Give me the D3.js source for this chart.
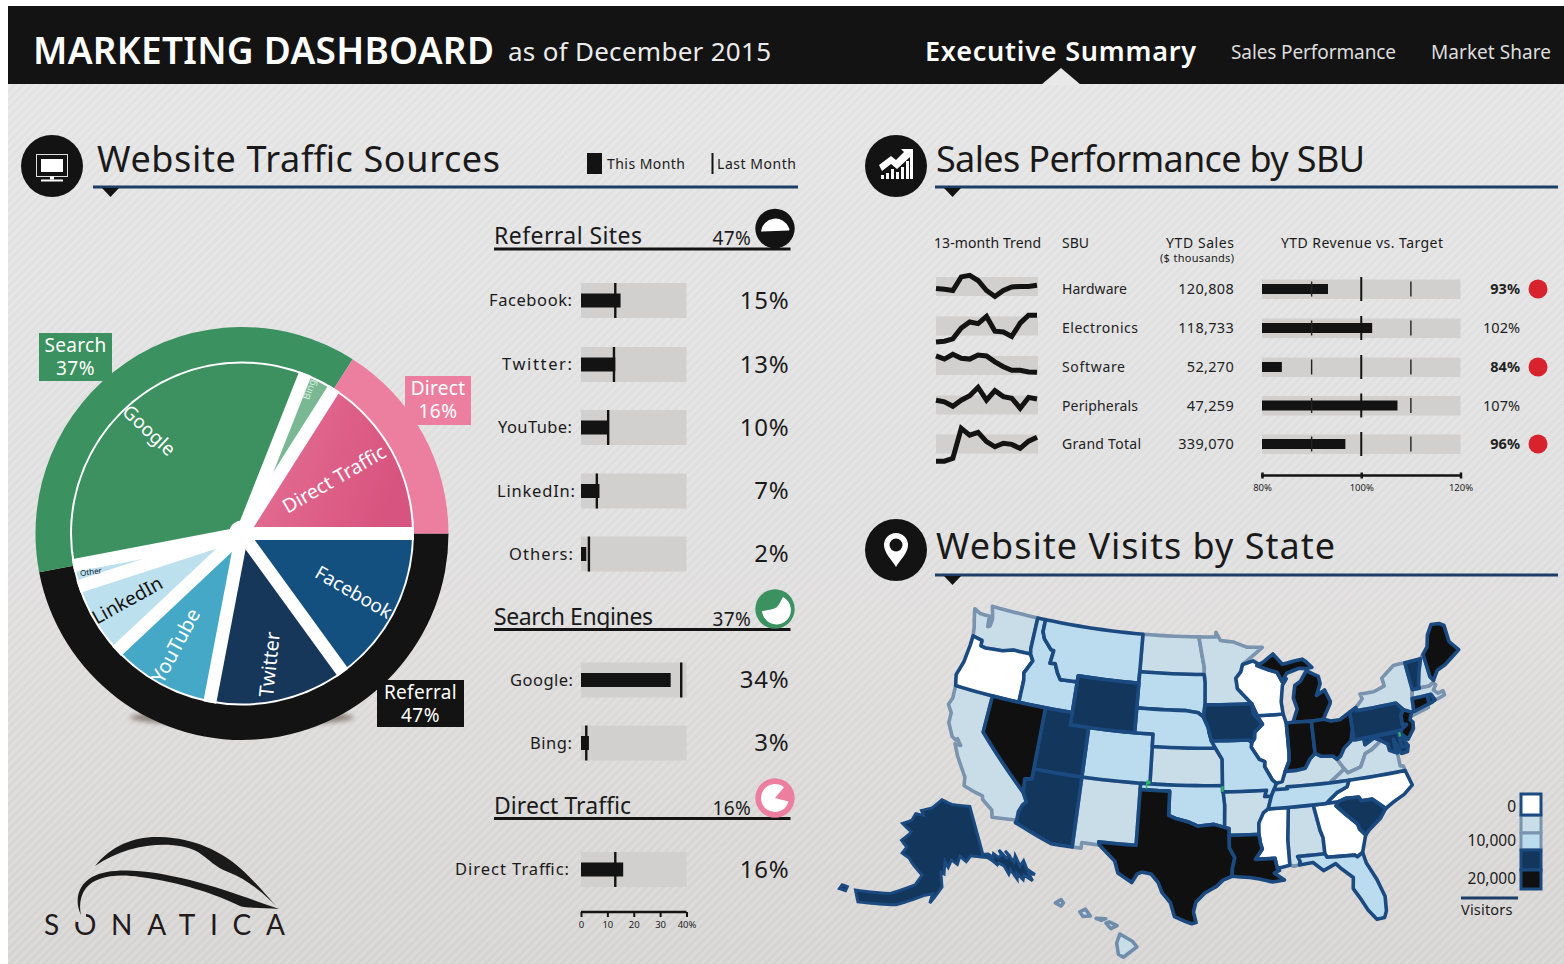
<!DOCTYPE html>
<html><head><meta charset="utf-8">
<script src="https://cdn.jsdelivr.net/npm/d3@7"></script>
<style>
html,body{margin:0;padding:0;background:#fff;overflow:hidden}
svg{display:block}
text{font-family:"Noto Sans",sans-serif;fill:#1b1b1b}
</style></head><body><svg id="c" width="1564" height="964"></svg>
<script>
// ---------- DATA ----------
const headerTabs = ["Executive Summary","Sales Performance","Market Share"];
const pieCategories = ["Facebook","Twitter","YouTube","LinkedIn","Other","Google","Bing","Direct Traffic"];
const pieValues = [15,13,10,7,2,34,3,16];
const ringCategories = ["Referral","Search","Direct"];
const ringValues = [47,37,16];
const referralSites = ["Facebook","Twitter","YouTube","LinkedIn","Others"];
const referralThis = [15,13,10,7,2];
const referralLast = [13,12.5,10.3,6,3];
const searchEngines = ["Google","Bing"];
const searchThis = [34,3];
const searchLast = [38,2];
const directSites = ["Direct Traffic"];
const directThis = [16];
const directLast = [13];
const pctTicks = [0,10,20,30,40];
const sbuNames = ["Hardware","Electronics","Software","Peripherals","Grand Total"];
const sbuSales = ["120,808","118,733","52,270","47,259","339,070"];
const sbuActual = [93.3,102.2,84,107.3,96.8];
const sbuLabels = ["93%","102%","84%","107%","96%"];
const revTicks = [80,100,120];
const trendHardware = [45,43,40,74,78,65,40,25,40,49,50,50,53];
const trendElectronics = [10,12,18,45,60,56,74,37,35,24,57,77,77];
const trendSoftware = [74,66,78,68,66,76,74,59,47,38,38,34,33];
const trendPeripherals = [62,58,47,62,73,94,62,86,71,67,42,69,65];
const trendTotal = [7,7,14,89,72,79,56,43,52,49,39,57,67];
const legendLabels = ["0","10,000","20,000"];
// visitor class per state: 0 white, 1 pale, 2 light blue, 3 navy, 4 black
const visitClass = {WA:1,OR:0,CA:1,NV:4,ID:2,MT:2,WY:3,UT:3,CO:2,AZ:3,NM:1,ND:1,SD:2,NE:2,KS:1,OK:2,TX:4,MN:1,IA:3,MO:2,AR:1,LA:4,WI:0,IL:0,MS:0,AL:1,TN:2,KY:1,IN:4,OH:4,MI:4,GA:0,FL:2,SC:3,NC:0,VA:1,WV:1,PA:3,NY:1,MD:3,DE:3,NJ:4,CT:4,RI:3,MA:1,VT:3,NH:1,ME:4};
const stateOutline = {
WA:["-124.7,48.4 -123.9,48.15 -123.2,48.15 -122.75,48.15 -122.6,47.3 -122.35,47.4 -122.3,48 -122.5,48.5 -122.75,49 -117.03,49 -117.04,46.42 -116.92,46 -118.98,46 -119.3,45.93 -120.2,45.73 -121.2,45.67 -122.2,45.58 -122.75,45.65 -122.8,46.1 -123.2,46.15 -123.95,46.25 -124.1,46.9 -124.4,47.6"],
OR:["-123.95,46.25 -123.2,46.15 -122.8,46.1 -122.75,45.65 -122.2,45.58 -121.2,45.67 -120.2,45.73 -119.3,45.93 -118.98,46 -116.92,46 -116.5,45.5 -116.85,44.95 -117.2,44.4 -117.03,43.8 -117.03,42 -124.2,42 -124.5,42.85 -124.1,44 -123.95,45.5"],
CA:["-124.2,42 -120,42 -120,39 -114.63,35 -114.14,34.3 -114.45,34 -114.72,33.4 -114.72,32.72 -117.12,32.53 -117.3,33.1 -118.4,33.75 -118.5,34.03 -119.2,34.15 -120.5,34.45 -120.65,35.15 -121.9,36.6 -122.5,37.5 -121.9,37.5 -122.4,37.95 -122.5,37.8 -123,38 -123.75,39 -123.8,39.8 -124.35,40.4 -124.1,41"],
NV:["-120,42 -114.04,42 -114.04,36.2 -114.75,36.1 -114.63,35 -120,39"],
ID:["-117.03,49 -116.05,49 -116.05,48 -115.7,47.45 -114.7,46.7 -114.35,46.65 -114.5,45.6 -113.9,45.65 -113.45,44.95 -113,44.45 -111.05,44.5 -111.05,42 -117.03,42 -117.03,43.8 -117.2,44.4 -116.85,44.95 -116.5,45.5 -116.92,46 -117.04,46.42"],
MT:["-116.05,49 -104.05,49 -104.05,45 -111.05,45 -111.05,44.5 -113,44.45 -113.45,44.95 -113.9,45.65 -114.5,45.6 -114.35,46.65 -114.7,46.7 -115.7,47.45 -116.05,48"],
WY:["-111.05,45 -104.05,45 -104.05,41 -111.05,41"],
UT:["-114.04,42 -111.05,42 -111.05,41 -109.05,41 -109.05,37 -114.04,37"],
CO:["-109.05,41 -102.05,41 -102.05,37 -109.05,37"],
AZ:["-114.72,32.72 -114.72,33.4 -114.45,34 -114.14,34.3 -114.63,35 -114.75,36.1 -114.04,36.2 -114.04,37 -109.05,37 -109.05,31.33 -111.07,31.33 -114.8,32.5"],
NM:["-109.05,37 -103,37 -103,32 -106.6,32 -106.5,31.75 -108.2,31.78 -108.2,31.33 -109.05,31.33"],
ND:["-104.05,49 -97.23,49 -96.85,47.6 -96.55,46.5 -96.56,45.94 -104.05,45.94"],
SD:["-104.05,45.94 -96.56,45.94 -96.45,45.3 -96.45,43.5 -96.6,42.5 -97.2,42.85 -98.5,43 -104.05,43"],
NE:["-104.05,43 -98.5,43 -97.2,42.85 -96.6,42.5 -96.1,41.7 -95.9,41 -95.31,40 -102.05,40 -102.05,41 -104.05,41"],
KS:["-102.05,40 -95.31,40 -94.62,39.1 -94.62,37 -102.05,37"],
OK:["-103,37 -94.62,37 -94.43,35.4 -94.48,33.65 -95.5,33.9 -97.1,33.75 -98.1,34.1 -99.2,34.3 -100,34.56 -100,36.5 -103,36.5"],
TX:["-103,36.5 -100,36.5 -100,34.56 -99.2,34.3 -98.1,34.1 -97.1,33.75 -95.5,33.9 -94.48,33.65 -94.04,33.55 -94.04,32 -93.55,31.2 -93.8,30.3 -93.85,29.7 -94.7,29.4 -95.3,28.9 -96.4,28.35 -97.2,27.6 -97.4,26.8 -97.15,25.95 -97.55,25.85 -98.2,26.05 -99.1,26.4 -99.5,27.5 -100.3,28.3 -100.7,29.1 -101.4,29.77 -102.3,29.88 -102.7,29.7 -103.15,28.98 -104.5,29.65 -104.9,30.6 -106.5,31.75 -106.6,32 -103,32"],
MN:["-97.23,49 -95.15,49 -95.15,49.38 -94.6,48.7 -93,48.55 -91.5,48.1 -89.6,48 -92.05,46.7 -92.3,46.1 -92.9,45.6 -92.75,44.75 -91.2,43.5 -96.45,43.5 -96.45,45.3 -96.56,45.94 -96.55,46.5 -96.85,47.6"],
IA:["-96.45,43.5 -91.2,43.5 -91.1,42.7 -90.15,41.8 -91.05,41.2 -91.1,40.7 -91.42,40.38 -91.73,40.6 -95.75,40.6 -95.9,41 -96.1,41.7 -96.6,42.5"],
MO:["-95.75,40.6 -91.73,40.6 -91.42,40.38 -91.5,40 -90.7,39 -90.15,38.8 -90.2,38.4 -89.5,37.3 -89.1,37 -89.4,36.5 -89.7,36 -90.37,36 -90.15,36.5 -94.62,36.5 -94.62,39.1 -95.31,40"],
AR:["-94.62,36.5 -90.15,36.5 -90.37,36 -89.7,36 -90.1,35 -90.6,34.7 -91.1,33.9 -91.15,33 -94.04,33 -94.04,33.55 -94.48,33.65 -94.43,35.4"],
LA:["-94.04,33 -91.15,33 -91.05,32.3 -90.9,31.8 -91.6,31 -89.75,31 -89.6,30.2 -89.4,30 -89.9,29.8 -89,29.2 -90.1,29.1 -91.3,29.4 -92.2,29.55 -93.85,29.7 -93.8,30.3 -93.55,31.2 -94.04,32"],
MS:["-90.1,35 -88.2,35 -88.1,34.9 -88.4,32.4 -88.4,30.35 -89.4,30.2 -89.6,30.2 -89.75,31 -91.6,31 -90.9,31.8 -91.05,32.3 -91.15,33 -91.1,33.9 -90.6,34.7"],
AL:["-88.2,35 -85.6,35 -85.2,32.9 -85,32.3 -85,31 -87.6,31 -87.4,30.6 -87.5,30.3 -88,30.25 -88.4,30.35 -88.4,32.4 -88.1,34.9"],
TN:["-90.1,35 -89.7,36 -89.4,36.5 -88,36.5 -88.05,36.65 -83.7,36.6 -81.7,36.6 -82,36.1 -83.1,35.75 -84.3,35"],
KY:["-89.4,36.5 -89.1,37 -88.5,37.1 -88.1,37.9 -87,37.9 -86,38 -85.4,38.7 -84.8,39.1 -84.2,38.8 -83,38.7 -82.6,38.4 -82,37.55 -83.7,36.6 -88.05,36.65 -88,36.5"],
IL:["-90.65,42.5 -87.8,42.5 -87.55,41.75 -87.53,39.3 -87.6,38.7 -88.1,37.9 -88.5,37.1 -89.1,37 -89.5,37.3 -90.2,38.4 -90.15,38.8 -90.7,39 -91.5,40 -91.42,40.38 -91.1,40.7 -91.05,41.2 -90.15,41.8"],
WI:["-92.05,46.7 -90.8,46.95 -89.1,46.15 -88.1,45.9 -87.6,45.1 -87.1,45.3 -87.6,44.8 -87.9,43.5 -87.8,42.5 -90.65,42.5 -91.2,43.5 -92.75,44.75 -92.9,45.6 -92.3,46.1"],
MI:["-86.8,41.76 -84.8,41.7 -83.45,41.73 -83.1,42.2 -82.5,42.9 -82.45,43.1 -82.9,44.05 -83.9,43.7 -83.3,44.6 -83.4,45.2 -84.7,45.78 -85.5,45 -86.2,44.7 -86.5,43.7 -86.2,42.8",
    "-90.4,46.55 -89.1,46.15 -88.1,45.9 -87.6,45.1 -87,45.75 -85.5,46.05 -84.7,45.95 -84,46 -84.6,46.5 -85,46.75 -86.2,46.65 -87.4,46.5 -88.4,47.4 -89.5,46.85"],
IN:["-87.53,41.75 -86.8,41.76 -84.8,41.7 -84.8,39.1 -85.4,38.7 -86,38 -87,37.9 -88.1,37.9 -87.6,38.7 -87.53,39.3"],
OH:["-84.8,41.7 -83.45,41.73 -82.7,41.5 -81.7,41.5 -80.52,41.98 -80.52,40.64 -80.85,39.7 -81.7,39.2 -82.2,38.6 -82.6,38.4 -83,38.7 -84.2,38.8 -84.8,39.1"],
PA:["-80.52,41.98 -79.76,42.27 -79.76,42 -75.35,42 -74.7,41.35 -75.1,40.95 -75.15,40.2 -74.7,40.15 -75.4,39.8 -80.52,39.72 -80.52,40.64"],
WV:["-80.52,40.64 -80.52,39.72 -79.48,39.72 -79.48,39.2 -78.4,39.62 -77.75,39.3 -78.3,39 -78.9,38.7 -79.6,38.5 -80.3,37.5 -81.7,37.2 -82,37.55 -82.6,38.4 -82.2,38.6 -81.7,39.2 -80.85,39.7"],
MD:["-79.48,39.72 -75.79,39.72 -75.7,38.46 -75.05,38.45 -75.25,38 -75.9,37.95 -76.3,38.9 -76.4,39.2 -76.45,38.4 -76.3,38.05 -77.05,38.4 -77.1,38.9 -77.75,39.3 -78.4,39.62 -79.48,39.2"],
DE:["-75.79,39.72 -75.4,39.8 -75.55,39.4 -75.05,38.45 -75.7,38.46"],
NJ:["-75.1,40.95 -74.7,41.35 -73.9,41 -74.25,40.45 -74,40.2 -74.1,39.7 -74.9,38.95 -75.5,39.5 -75.4,39.8 -74.7,40.15 -75.15,40.2"],
VA:["-83.7,36.6 -75.9,36.55 -76,36.95 -76.3,37 -76.3,38.05 -77.05,38.4 -77.1,38.9 -77.75,39.3 -78.3,39 -78.9,38.7 -79.6,38.5 -80.3,37.5 -81.7,37.2 -82,37.55"],
NC:["-84.3,35 -83.1,35.75 -82,36.1 -81.7,36.6 -75.9,36.55 -75.5,35.3 -76.5,34.7 -77.6,34.3 -78.55,33.87 -79.7,34.8 -80.8,34.82 -81,35.15 -82.3,35.2 -83.1,35"],
SC:["-83.1,35 -82.3,35.2 -81,35.15 -80.8,34.82 -79.7,34.8 -78.55,33.87 -79.2,33.2 -80.5,32.4 -80.9,32.05 -81.4,32.6 -81.5,33 -82.6,34 -83.35,34.7"],
GA:["-85.6,35 -84.3,35 -83.1,35 -83.35,34.7 -82.6,34 -81.5,33 -81.4,32.6 -80.9,32.05 -81.45,30.7 -82,30.4 -82.2,30.57 -84.85,30.7 -85,31 -85,32.3 -85.2,32.9"],
FL:["-87.6,31 -85,31 -84.85,30.7 -82.2,30.57 -82,30.4 -81.45,30.7 -81.25,29.8 -80.55,28.4 -80.05,26.9 -80.15,25.7 -80.4,25.2 -81.1,25.15 -81.75,26 -82.2,26.9 -82.8,27.9 -82.65,28.8 -83.6,29.6 -84.1,30.1 -85.3,29.65 -86.2,30.4 -87.5,30.3 -87.4,30.6"],
NY:["-79.76,42.27 -79.76,42 -75.35,42 -74.7,41.35 -73.9,41 -74,40.7 -72,41.05 -73.2,41.1 -73.65,41 -73.5,42.05 -73.25,42.75 -73.35,45 -74.7,45 -76.3,44.2 -76.2,43.55 -77.5,43.25 -79.05,43.27 -78.9,42.85"],
VT:["-73.35,45 -71.5,45 -72.05,44 -72.45,43 -72.45,42.73 -73.25,42.75"],
NH:["-71.5,45 -71.08,45.3 -70.98,43.4 -70.7,43.05 -70.85,42.87 -71.3,42.7 -72.45,42.73 -72.45,43 -72.05,44"],
ME:["-71.08,45.3 -70.4,45.8 -70,46.7 -69.25,47.45 -68.3,47.35 -67.8,47.07 -67.8,45.7 -67,44.85 -68.3,44.3 -69,44 -70,43.75 -70.7,43.05 -70.98,43.4"],
MA:["-73.5,42.05 -73.25,42.75 -71.3,42.7 -70.85,42.87 -70.6,42.65 -71,42.3 -70.6,41.95 -70,42.05 -69.95,41.7 -70.65,41.55 -71.1,41.5 -71.38,42.02 -71.8,42.02"],
CT:["-73.5,42.05 -71.8,42.02 -71.85,41.32 -73.65,41"],
RI:["-71.8,42.02 -71.38,42.02 -71.1,41.5 -71.5,41.37 -71.85,41.32"]
};
const alaskaOutline = [
"-141,69.65 -141,60.3 -139.5,60.2 -138.5,59.4 -138,60.1 -137,59.2 -136,59.6 -136.2,60.6 -135,58.8 -134,59.2 -134.6,60.2 -133.5,57.8 -132.5,58.9 -132.5,56.8 -131,57.6 -131.2,56 -130,54.6 -131.3,55.1 -131.2,53.6 -132.5,55 -133.2,54.2 -134,55.6 -134.5,54.6 -135.2,56.6 -136,55.8 -136.4,57.5 -137.5,58.2 -138,57.9 -139,58.9 -140,59.6 -142.5,60 -144.5,60.3 -146,59.3 -147.5,60.4 -148.5,58.9 -150,59.8 -151,58.4 -151.8,59.5 -152.2,57.2 -153,57.5 -152.8,54.7 -155.6,51.6 -155,53.4 -156.8,53.1 -163,50.9 -171.3,50.4 -172.8,52.5 -164.9,52.9 -159.3,55 -157.8,56.9 -160.8,59.1 -161.8,60 -164,60.8 -163,62 -165,63.2 -163,64.5 -162.5,65 -166,66.4 -163,67.2 -162,68.5 -159,68.3 -160,69.2 -156,69.8 -151.9,71.4 -148,70.4",
"-176.4,52.1 -174.9,52 -174.9,52.8 -176.2,52.9"
];
const hawaiiOutline = [
"-159.8,22.05 -159.45,22.25 -159.3,22.05 -159.45,21.87",
"-158.3,21.55 -157.95,21.7 -157.65,21.3 -158.1,21.28",
"-157.3,21.17 -156.7,21.15 -157,21.05",
"-156.7,20.9 -156.5,20.97 -156.02,20.75 -156.4,20.58",
"-156.05,19.75 -155.85,20.27 -155.1,19.85 -154.82,19.52 -155.65,18.93 -155.95,19.1"
];
const miscMarks = ["-102.45,37.25 -102.0,37.25 -102.0,36.95 -102.3,36.95 -102.3,36.6 -102.45,36.6","-94.75,36.95 -94.5,36.95 -94.5,36.5 -94.75,36.5","-75.8,39.65 -75.55,39.65 -75.55,39.3 -75.8,39.3"];

// ---------- SCAFFOLD ----------
const svg = d3.select("#c");
const ink = "#1a1a1a", navy="#1b4a80", lineNavy="#1c3d66", bandGrey="#d1d0cf";
const defs = svg.append("defs");
const bg = defs.append("linearGradient").attr("id","bg").attr("x1",0).attr("y1",0).attr("x2",0).attr("y2",1);
bg.append("stop").attr("offset","0").attr("stop-color","#e4e4e4");
bg.append("stop").attr("offset","0.55").attr("stop-color","#dfdede");
bg.append("stop").attr("offset","1").attr("stop-color","#d5d3d1");
const stripes = defs.append("pattern").attr("id","st").attr("width",6).attr("height",6).attr("patternUnits","userSpaceOnUse").attr("patternTransform","rotate(-45)");
stripes.append("rect").attr("width",6).attr("height",3).attr("fill","#fff").attr("opacity",0.17);
const pk = defs.append("linearGradient").attr("id","pk").attr("x1",0).attr("y1",0).attr("x2",1).attr("y2",0.3);
pk.append("stop").attr("offset","0").attr("stop-color","#e67396");
pk.append("stop").attr("offset","1").attr("stop-color","#d85480");
const blur = defs.append("filter").attr("id","soft").attr("x","-20%").attr("y","-50%").attr("width","140%").attr("height","200%");
blur.append("feGaussianBlur").attr("stdDeviation",2.5);

svg.append("rect").attr("x",8).attr("y",6).attr("width",1556).attr("height",958).attr("fill","url(#bg)");
svg.append("rect").attr("x",8).attr("y",6).attr("width",1556).attr("height",958).attr("fill","url(#st)");

function T(g,x,y,s,size,o={}){
  const t=g.append("text").attr("x",x).attr("y",y).attr("font-size",size).text(s)
    .attr("text-anchor",o.a||"start").style("fill",o.c||ink);
  if(o.w) t.attr("font-weight",o.w);
  if(o.len) t.attr("textLength",o.len).attr("lengthAdjust","spacing");
  if(o.ls) t.style("letter-spacing",o.ls+"px");
  if(o.f) t.style("font-family",o.f);
  return t;
}
// ---------- HEADER ----------
const hdr = svg.append("g");
hdr.append("rect").attr("x",8).attr("y",6).attr("width",1556).attr("height",78).attr("fill","#131313");
hdr.append("path").attr("d","M1041,85L1061,68L1081,85Z").attr("fill","#e8e8e8");
T(hdr,33,64,"MARKETING DASHBOARD",37,{c:"#fff",w:600,len:461});
T(hdr,508,61,"as of December 2015",26,{c:"#ececec",len:263});
T(hdr,925,61,headerTabs[0],27,{c:"#fff",w:600,len:271});
T(hdr,1231,59,headerTabs[1],19,{c:"#dedede",len:165});
T(hdr,1431,59,headerTabs[2],19,{c:"#dedede",len:120});

function section(x,y,x1,x2,title,len,tx,ty,ly){
  const g=svg.append("g");
  g.append("circle").attr("cx",x).attr("cy",y).attr("r",31).attr("fill","#131313");
  g.append("line").attr("x1",x1).attr("x2",x2).attr("y1",ly).attr("y2",ly).attr("stroke",lineNavy).attr("stroke-width",3);
  g.append("path").attr("d",`M${x1+9},${ly+1}h17l-8.5,9Z`).attr("fill","#131313");
  T(g,tx,ty,title,36,{len:len});
  return g;
}
const s1=section(52,166,93,798,"Website Traffic Sources",403,97,172,187);
const mon=s1.append("g").attr("transform","translate(52,166)");
mon.append("rect").attr("x",-15.5).attr("y",-11.5).attr("width",31).attr("height",22).attr("fill","none").attr("stroke","#ddd").attr("stroke-width",1);
mon.append("rect").attr("x",-11).attr("y",-7).attr("width",22).attr("height",13).attr("fill","#fff");
mon.append("rect").attr("x",-2).attr("y",10.5).attr("width",4).attr("height",3).attr("fill","#fff");
mon.append("rect").attr("x",-11).attr("y",13.5).attr("width",22).attr("height",2).attr("fill","#fff");
const s2=section(896,166,935,1558,"Sales Performance by SBU",429,936,172,187);
const ic=s2.append("g").attr("transform","translate(896,166)").attr("fill","#fff");
ic.append("path").attr("d","M-17,-1L-5,-10L0,-6L8,-14L5,-17L17,-17L17,-5L14,-9L1,3L-5,-2L-14,5Z");
[-15,-10,-5,0,5,10,14].forEach((dx,i)=>{const h=[4,6,10,7,12,18,22][i];ic.append("rect").attr("x",dx).attr("y",13-h).attr("width",3).attr("height",h);});
const s3=section(896,550,935,1558,"Website Visits by State",399,936,559,575);
const pin=s3.append("g").attr("transform","translate(896,550)");
pin.append("path").attr("d","M0,17C-4,10 -12,3 -12,-5A12,12 0 1 1 12,-5C12,3 4,10 0,17Z").attr("fill","#fff");
pin.append("circle").attr("cy",-5).attr("r",6.5).attr("fill","#131313");

// top legend
const tl=svg.append("g");
tl.append("rect").attr("x",587).attr("y",153).attr("width",15).attr("height",21).attr("fill","#131313");
T(tl,607,169,"This Month",14,{len:78});
tl.append("rect").attr("x",711.5).attr("y",153).attr("width",2).attr("height",21).attr("fill","#131313");
T(tl,717,169,"Last Month",14,{len:79});

// ---------- PIE ----------
const cx=242, cy=533.5, gP=svg.append("g").attr("transform",`translate(${cx},${cy})`);
gP.append("ellipse").attr("cx",0).attr("cy",184).attr("rx",112).attr("ry",8).attr("fill","#8d8178").attr("filter","url(#soft)");
const pieStart=Math.PI/2;
const ringPie=d3.pie().sort(null).startAngle(pieStart).endAngle(pieStart+2*Math.PI);
const ringColor=d3.scaleOrdinal().domain(ringCategories).range(["#131313","#3b9160","#ec7f9f"]);
const ringArc=d3.arc().innerRadius(165).outerRadius(206.5);
gP.selectAll("path.r").data(ringPie(ringValues)).join("path").attr("class","r").attr("d",ringArc).attr("fill",(d,i)=>ringColor(ringCategories[i]));
gP.append("circle").attr("r",172).attr("fill","#fff");
const pieColor=d3.scaleOrdinal().domain(pieCategories).range(["#14507f","#17375a","#44a8c6","#bde0ee","#bde0ee","#3d9160","#7ab894","url(#pk)"]);
const pieArc=d3.arc().innerRadius(0).outerRadius(170);
const pieD=d3.pie().sort(null).startAngle(pieStart).endAngle(pieStart+2*Math.PI)(pieValues);
gP.selectAll("path.w").data(pieD).join("path").attr("class","w").attr("d",pieArc).attr("fill",(d,i)=>pieColor(pieCategories[i]));
// white parallel gaps between the slices
gP.selectAll("line.gap").data(pieD).join("line").attr("class","gap")
  .attr("x1",0).attr("y1",0)
  .attr("x2",d=>d3.pointRadial(d.startAngle,172)[0]).attr("y2",d=>d3.pointRadial(d.startAngle,172)[1])
  .attr("stroke","#fff").attr("stroke-width",13);
gP.append("circle").attr("r",13).attr("fill","#fff");
// label placement: [dx, dy, rotation, size, colour]
const labelStyle={Facebook:[111,60,30,19,"#fff"],Twitter:[29,131,-84,20,"#fff"],YouTube:[-65,113,-62,20,"#fff"],LinkedIn:[-114,68,-29,19,"#111"],Other:[-151,39,-8,8,"#123"],Google:[-94,-102,43,19,"#fff"],Bing:[68,-144,-70,10,"#d8ecdf"],"Direct Traffic":[93,-53,-30,19.5,"#fff"]};
pieCategories.forEach(name=>{
  const [x,y,deg,fs,col]=labelStyle[name];
  gP.append("text").attr("text-anchor","middle").attr("dominant-baseline","middle").attr("transform",`translate(${x},${y}) rotate(${deg})`).attr("font-size",fs).style("fill",col).text(name);
});
function tag(x,y,w,h,c,a,b){
  const g=svg.append("g");
  g.append("rect").attr("x",x).attr("y",y).attr("width",w).attr("height",h).attr("fill",c);
  T(g,x+w/2,y+18.5,a,19,{a:"middle",c:"#fff",ls:0.3});
  T(g,x+w/2,y+42,b,19,{a:"middle",c:"#fff",ls:0.5});
}
tag(39,333,73,48,"#3b9160",ringCategories[1],ringValues[1]+"%");
tag(405,376,66,49,"#ec7f9f",ringCategories[2],ringValues[2]+"%");
tag(377,680,87,47,"#131313",ringCategories[0],ringValues[0]+"%");

// ---------- LEFT BULLETS ----------
const pctX=d3.scaleLinear().domain([0,40]).range([581,686.5]);
const gB=svg.append("g");
function bullets(names,thisM,lastM,rowY,labelEnd,labelLen){
  names.forEach((n,i)=>{
    const y=rowY[i];
    gB.append("rect").attr("x",pctX(0)).attr("y",y-17.5).attr("width",pctX(40)-pctX(0)).attr("height",35).attr("fill",bandGrey);
    gB.append("rect").attr("x",pctX(0)).attr("y",y-7).attr("width",pctX(thisM[i])-pctX(0)).attr("height",14).attr("fill","#131313");
    gB.append("rect").attr("x",pctX(lastM[i])-1.2).attr("y",y-17.5).attr("width",2.4).attr("height",35).attr("fill","#131313");
    T(gB,labelEnd[i],y+5.5,n+":",16.5,{a:"end",len:labelLen[i]});
    T(gB,789.5,y+8,thisM[i]+"%",24,{a:"end",ls:0.8});
  });
}
bullets(referralSites,referralThis,referralLast,[300.5,364.5,427.5,491,554],[572,572,572,575,573],[83,70,74,78,64]);
bullets(searchEngines,searchThis,searchLast,[680,743],[573,572],[63,42]);
bullets(directSites,directThis,directLast,[869.5],[569],[114]);
function groupHead(y,title,len,val,col,whitePath){
  const g=svg.append("g");
  T(g,494,y,title,23,{len:len});
  g.append("rect").attr("x",494).attr("y",y+3.5).attr("width",296.5).attr("height",3).attr("fill","#131313");
  T(g,751,y+1,val+"%",19,{a:"end",ls:0.3});
  const c=g.append("g").attr("transform",`translate(775,${y-15.5})`);
  c.append("circle").attr("r",19.7).attr("fill",col);
  whitePath(c);
}
groupHead(244,"Referral Sites",148,ringValues[0],"#131313",c=>{
  c.append("path").attr("d","M-14,3A14.5,14.5 0 0 1 14,-0.5C14.5,0.5 14.5,1.5 14,2Z").attr("fill","#fff");
});
groupHead(624.5,"Search Engines",159,ringValues[1],"#3b9160",c=>{
  c.append("path").attr("d","M-13,2C-8,1 -2,1 2,-2C5,-5 6,-9 8,-12A14.5,14.5 0 1 1 -13,2Z").attr("fill","#fff");
});
groupHead(813.5,"Direct Traffic",137,ringValues[2],"#ec7f9f",c=>{
  c.append("path").attr("d",d3.arc().innerRadius(0).outerRadius(14)({startAngle:1.83,endAngle:6.98})).attr("fill","#fff");
});
const ax=svg.append("g").attr("transform","translate(0,912)").call(d3.axisBottom(pctX).tickValues(pctTicks).tickSize(5).tickFormat((d,i)=>i==4?d+"%":d));
ax.select(".domain").attr("stroke","#131313").attr("stroke-width",2.5).attr("d",`M${pctX(0)},0H${pctX(40)}`);
ax.selectAll("line").attr("stroke","#131313").attr("stroke-width",2);
ax.selectAll("text").attr("font-size",9.5).attr("y",9).style("fill","#222");

// ---------- SALES TABLE ----------
const gS=svg.append("g");
T(gS,934,248,"13-month Trend",14,{len:107});
T(gS,1062,248,"SBU",14,{len:27});
T(gS,1234,248,"YTD Sales",14,{a:"end",len:68});
T(gS,1234,262,"($ thousands)",11,{a:"end",len:74});
T(gS,1281,248,"YTD Revenue vs. Target",14,{len:162});
const revX=d3.scaleLinear().domain([80,120]).range([1262,1460.5]);
const trendRows=[trendHardware,trendElectronics,trendSoftware,trendPeripherals,trendTotal];
const rowMid=[289,328,367,405.5,444];
const sparkMid=[286.5,326,365.5,405,444];
const monthX=d3.scaleLinear().domain([0,12]).range([936,1037]);
const nameLen=[65,76,63,76,79];
sbuNames.forEach((n,i)=>{
  const y=rowMid[i], sy=sparkMid[i];
  const yS=d3.scaleLinear().domain([0,100]).range([sy+20,sy-20]);
  gS.append("rect").attr("x",936).attr("y",sy-9.5).attr("width",102).attr("height",19).attr("fill",bandGrey);
  gS.append("path").attr("d",d3.line().x((d,k)=>monthX(k)).y(d=>yS(d))(trendRows[i])).attr("fill","none").attr("stroke","#131313").attr("stroke-width",5).attr("stroke-linejoin","miter");
  T(gS,1062,y+5,n,14,{c:"#222",len:nameLen[i]});
  T(gS,1234,y+5,sbuSales[i],14.5,{a:"end",c:"#222",ls:0.3});
  gS.append("rect").attr("x",revX(80)).attr("y",y-9.5).attr("width",revX(120)-revX(80)).attr("height",19.5).attr("fill",bandGrey);
  gS.append("rect").attr("x",revX(80)).attr("y",y-5).attr("width",revX(sbuActual[i])-revX(80)).attr("height",10).attr("fill","#131313");
  [90,110].forEach(v=>gS.append("rect").attr("x",revX(v)-.7).attr("y",y-7.5).attr("width",1.4).attr("height",15).attr("fill","#222"));
  gS.append("rect").attr("x",revX(100)-1).attr("y",y-12).attr("width",2).attr("height",24).attr("fill","#131313");
  const low=sbuActual[i]<100;
  T(gS,1520,y+5,sbuLabels[i],14.5,{a:"end",w:low?700:400,c:"#222"});
  if(low) gS.append("circle").attr("cx",1538).attr("cy",y).attr("r",9.5).attr("fill","#d8222d");
});
const ax2=svg.append("g").attr("transform","translate(0,475.5)").call(d3.axisBottom(revX).tickValues(revTicks).tickSize(0).tickFormat(d=>d+"%"));
ax2.select(".domain").attr("stroke","#131313").attr("stroke-width",2.5).attr("d",`M${revX(80)-1},0H${revX(120)+1}`);
ax2.selectAll(".tick line").attr("y1",-3).attr("y2",3).attr("stroke","#131313").attr("stroke-width",2.5);
ax2.selectAll("text").attr("font-size",9.5).attr("y",9).style("fill","#222");

// ---------- MAP ----------
const classFill=["#ffffff","#c9dde8","#bbdcee","#12365c","#101010"];
const classStroke=[navy,"#7a93ae",navy,navy,navy];
const conus=d3.geoConicEqualArea().parallels([29.5,45.5]).rotate([96,0]).center([0,0]).scale(708).translate([1209,1222]);
const akBase=d3.geoConicEqualArea().parallels([55,65]).rotate([154,0]).center([0,0]).scale(412).translate([937,630.4]);
const alaskaProj=p=>{const q=akBase(p);return [q[0],686+q[1]*0.728];};
const hawaii=d3.geoConicEqualArea().parallels([8,18]).rotate([157,0]).center([0,20.5]).scale(1000).translate([1101,930]);
const parseRing=s=>s.split(" ").map(p=>p.split(",").map(Number));
function dense(r){const o=[];r.forEach((p,i)=>{const q=r[(i+1)%r.length];const n=Math.max(1,Math.ceil(Math.abs(q[0]-p[0])));for(let k=0;k<n;k++)o.push([p[0]+(q[0]-p[0])*k/n,p[1]+(q[1]-p[1])*k/n]);});return o;}
const ringLine=d3.line();
const ringsPath=(rings,proj)=>rings.map(s=>ringLine(dense(parseRing(s)).map(proj))+"Z").join("");
const gM=svg.append("g").attr("stroke-linejoin","round");
const order=Object.keys(stateOutline).sort((a,b)=>{const r=c=>[1,0,2,3,4].indexOf(c);return r(visitClass[a])-r(visitClass[b]);});
gM.selectAll("path.s").data(order).join("path").attr("class","s")
  .attr("d",d=>ringsPath(stateOutline[d],conus)).attr("fill",d=>classFill[visitClass[d]])
  .attr("stroke",d=>classStroke[visitClass[d]]).attr("stroke-width",3.6);
gM.append("path").attr("d",ringsPath(alaskaOutline,alaskaProj)).attr("fill","#12365c").attr("stroke",navy).attr("stroke-width",3).attr("stroke-linejoin","miter");
gM.append("path").attr("d",ringsPath(hawaiiOutline,hawaii)).attr("fill",classFill[1]).attr("stroke","#6f8cab").attr("stroke-width",3.5);
gM.selectAll("path.g").data(miscMarks).join("path").attr("class","g").attr("d",d=>ringsPath([d],conus)).attr("fill","#2db36a");

// map legend
const gL=svg.append("g");
const lTop=[794,815,833,850,870], lBot=[815,833,850,870,889];
const legendStroke=[navy,"#7a93ae","#7a93ae",navy,navy];
[1,2,0,3,4].forEach(i=>{
  gL.append("rect").attr("x",1521).attr("y",lTop[i]).attr("width",20).attr("height",lBot[i]-lTop[i]).attr("fill",classFill[i]).attr("stroke",legendStroke[i]).attr("stroke-width",3);
});
[812,846,884].forEach((y,i)=>T(gL,1516,y,legendLabels[i],15.5,{a:"end"}));
gL.append("rect").attr("x",1461).attr("y",896.5).attr("width",57).attr("height",3).attr("fill",lineNavy);
T(gL,1461,915,"Visitors",14.5,{ls:0.2});

// ---------- LOGO ----------
const gLogo=svg.append("g").attr("fill","#1a1a1a");
T(gLogo,44,935,"SONATICA",28,{f:"Lato",c:"#221a1a",len:241});
gLogo.append("rect").attr("x",76).attr("y",912).attr("width",10).attr("height",10).attr("fill","#dad8d7");
gLogo.append("path").attr("d","M95,866C112,845 135,836 160,837C195,838 222,852 240,868C256,882 270,900 279,909C268,898 250,880 228,872C215,867 210,860 198,852C175,840 130,842 95,866Z");
gLogo.append("path").attr("d","M81,915C74,900 78,885 92,877C112,866 150,870 190,880C225,889 258,902 279,909C260,908 245,908 240,906C215,894 180,882 140,877C115,873 95,877 86,888C80,896 79,906 81,915Z");
</script></body></html>
